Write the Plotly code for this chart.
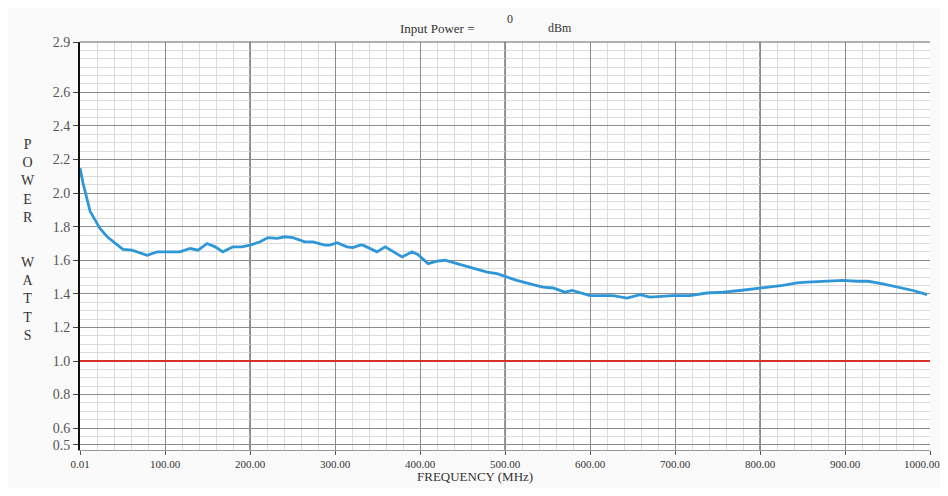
import plotly.graph_objects as go

# ---- data ----
freq_mhz = [0.01, 3.5, 12, 23.5, 32, 39, 50.5, 61, 68, 79, 90.5, 102, 117.5, 129.5, 139,
            149.5, 159, 168, 180, 190.5, 200, 212, 221, 232, 241, 250.5, 264.5, 274, 288,
            294, 302.5, 314, 321, 329.5, 333, 349.5, 359, 379, 390.5, 397.5, 409.5, 420,
            429.5, 443.5, 459, 479, 490.5, 502.5, 514, 529.5, 544.5, 556.5, 570.5, 579,
            600, 627, 643.5, 659, 670.5, 697.5, 717.5, 737.5, 756.5, 776.5, 797.5, 809.5,
            827, 843.5, 855.5, 879, 897.5, 914, 927, 944.5, 964.5, 980, 996.5]
power_w = [2.15, 2.06, 1.89, 1.79, 1.74, 1.71, 1.665, 1.66, 1.65, 1.63, 1.65, 1.65, 1.65, 1.67,
           1.66, 1.70, 1.68, 1.65, 1.68, 1.68, 1.69, 1.71, 1.735, 1.73, 1.74, 1.735, 1.71, 1.71,
           1.69, 1.69, 1.705, 1.68, 1.675, 1.69, 1.69, 1.65, 1.68, 1.62, 1.65, 1.635, 1.58,
           1.595, 1.60, 1.58, 1.56, 1.53, 1.52, 1.50, 1.48, 1.46, 1.44, 1.435, 1.41, 1.42,
           1.39, 1.39, 1.375, 1.395, 1.38, 1.39, 1.39, 1.405, 1.41, 1.42, 1.435, 1.44,
           1.45, 1.465, 1.47, 1.475, 1.48, 1.475, 1.475, 1.46, 1.44, 1.42, 1.395]
reference_level = 1.0
x_tickvals = [0.01, 100, 200, 300, 400, 500, 600, 700, 800, 900, 1000]
x_ticktext = ["0.01", "100.00", "200.00", "300.00", "400.00", "500.00", "600.00",
              "700.00", "800.00", "900.00", "1000.00"]
y_tickvals = [0.5, 0.6, 0.8, 1.0, 1.2, 1.4, 1.6, 1.8, 2.0, 2.2, 2.4, 2.6, 2.9]
y_ticktext = ["0.5", "0.6", "0.8", "1.0", "1.2", "1.4", "1.6", "1.8", "2.0", "2.2", "2.4", "2.6", "2.9"]
dark_grid_x = [200, 500, 800]
input_power_dbm = "0"

SERIF = "Liberation Serif, Times New Roman, serif"

fig = go.Figure()
fig.add_trace(go.Scatter(x=[0, 1000], y=[reference_level, reference_level], mode="lines",
                         line=dict(color="#d8312b", width=2), hoverinfo="skip"))
fig.add_trace(go.Scatter(x=freq_mhz, y=power_w, mode="lines",
                         line=dict(color="#2f97d8", width=2.8, shape="linear")))

for xv in dark_grid_x:
    fig.add_shape(type="line", xref="x", yref="paper", x0=xv, x1=xv, y0=0, y1=1,
                  line=dict(color="#555555", width=1.2), layer="below")

# the last tick label sits at the right edge; draw it as an annotation shifted inward
shown_ticktext = x_ticktext[:-1] + [""]

# page body has an 8px default margin -> figure 940x480 so no scrollbar appears
fig.update_layout(
    width=940, height=480,
    margin=dict(l=72, r=18, t=34, b=38, autoexpand=False),
    paper_bgcolor="#fafafa", plot_bgcolor="#ffffff",
    showlegend=False,
    font=dict(family=SERIF, color="#333333"),
    xaxis=dict(range=[0, 1000], tickvals=x_tickvals, ticktext=shown_ticktext,
               tickfont=dict(size=11, family=SERIF, color="#333333"),
               ticks="outside", ticklen=4, tickcolor="#555555",
               automargin=False,
               showgrid=True, gridcolor="#8c8c8c", gridwidth=1,
               minor=dict(dtick=20, showgrid=True, gridcolor="#dcdcdc", gridwidth=1),
               showline=True, linecolor="#9a9a9a", linewidth=1, mirror=False,
               zeroline=False, fixedrange=True),
    yaxis=dict(range=[0.47, 2.9], tickvals=y_tickvals, ticktext=y_ticktext,
               tickfont=dict(size=14, family=SERIF, color="#555555"),
               ticks="outside", ticklen=5, tickcolor="#444444", automargin=False,
               showgrid=True, gridcolor="#8c8c8c", gridwidth=1,
               minor=dict(dtick=0.05, showgrid=True, gridcolor="#dcdcdc", gridwidth=1),
               showline=True, linecolor="#111111", linewidth=2,
               zeroline=False, fixedrange=True),
)

fig.add_annotation(text=x_ticktext[-1], x=x_tickvals[-1], y=0, xref="x", yref="paper",
                   showarrow=False, xanchor="center", yanchor="top", xshift=-8, yshift=-6,
                   font=dict(size=11, family=SERIF, color="#333333"))

# top frame line
fig.add_shape(type="line", xref="paper", yref="paper", x0=0, x1=1, y0=1, y1=1,
              line=dict(color="#666666", width=1.2))

ann = [
    dict(text="Input Power =", x=0.42, y=1.034, size=13),
    dict(text=input_power_dbm, x=0.506, y=1.056, size=12),
    dict(text="dBm", x=0.565, y=1.034, size=12),
    dict(text="P<br>O<br>W<br>E<br>R", x=-0.061, y=0.659, size=14),
    dict(text="W<br>A<br>T<br>T<br>S", x=-0.061, y=0.371, size=14),
    dict(text="FREQUENCY (MHz)", x=0.465, y=-0.066, size=13),
]
for a in ann:
    fig.add_annotation(text=a["text"], x=a["x"], y=a["y"], xref="paper", yref="paper",
                       showarrow=False, xanchor="center", yanchor="middle",
                       font=dict(size=a["size"], family=SERIF, color="#333333"))

fig.write_html("out.html")
